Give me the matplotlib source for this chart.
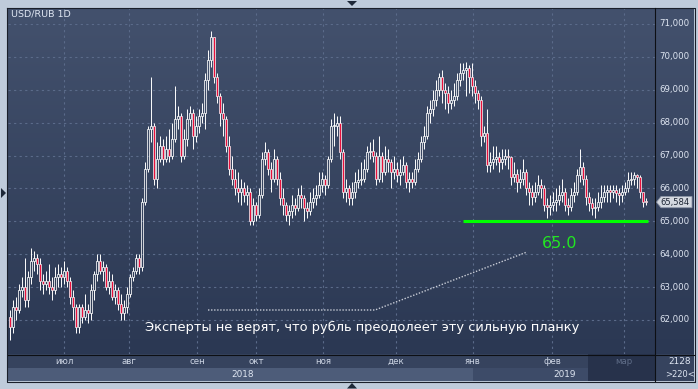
import matplotlib
matplotlib.use("Agg")
import matplotlib.pyplot as plt
import numpy as np
from matplotlib.patches import Rectangle, Polygon
from matplotlib.lines import Line2D

# ---------------- data ----------------
title = "USD/RUB 1D"
opens = [62.1, 61.8, 62.4, 62.3, 62.9, 63.0, 62.6, 63.3, 63.8, 63.9,
         63.7, 63.2, 63.1, 63.2, 63.0, 62.9, 63.3, 63.4, 63.3, 63.5,
         63.2, 62.7, 62.4, 61.8, 62.4, 62.1, 62.3, 62.2, 62.9, 63.4,
         63.8, 63.5, 63.6, 63.0, 63.2, 62.7, 62.9, 62.5, 62.2, 62.4,
         62.8, 63.3, 63.5, 63.9, 63.6, 65.6, 66.6, 67.8, 67.9, 66.3,
         66.9, 67.3, 66.9, 67.2, 67.0, 67.5, 68.1, 68.2, 67.0, 67.5,
         68.1, 68.3, 67.6, 67.9, 68.2, 68.3, 69.3, 69.9, 70.6, 69.4,
         68.8, 68.3, 68.1, 67.3, 66.6, 66.3, 66.0, 65.9, 66.0, 65.8,
         65.9, 65.0, 65.5, 65.2, 65.8, 66.9, 67.1, 66.6, 66.3, 66.9,
         66.3, 65.7, 65.5, 65.2, 65.3, 65.5, 65.4, 65.8, 65.7, 65.4,
         65.3, 65.6, 65.7, 65.8, 66.1, 66.3, 66.1, 66.9, 67.9, 67.9,
         68.0, 67.1, 65.9, 66.0, 65.7, 65.9, 66.2, 66.25, 66.3, 66.6,
         67.1, 67.15, 67.0, 66.3, 67.0, 66.5, 66.9, 66.8, 66.5, 66.6,
         66.4, 66.5, 66.7, 66.2, 66.3, 66.2, 66.6, 66.9, 67.4, 67.6,
         68.3, 68.4, 68.7, 69.0, 69.4, 69.0, 68.9, 68.6, 68.7, 68.8,
         69.3, 69.5, 69.6, 69.65, 69.4, 69.1, 68.9, 68.7, 67.6, 67.7,
         66.7, 66.8, 66.9, 66.95, 66.8, 66.9, 67.0, 66.95, 66.35, 66.45,
         66.2, 66.3, 66.5, 66.0, 65.9, 65.75, 65.9, 66.1, 66.0, 65.5,
         65.45, 65.5, 65.6, 65.65, 65.8, 65.9, 65.5, 65.45, 65.8, 65.9,
         66.4, 66.65, 66.3, 65.75, 65.55, 65.4, 65.45, 65.6, 65.75, 65.9,
         65.95, 65.9, 65.95, 65.85, 65.8, 65.9, 66.0, 66.25, 66.3, 66.4,
         66.35, 65.9, 65.6]
highs = [62.3, 62.6, 62.7, 63.1, 63.3, 63.9, 63.5, 64.2, 64.1, 64.0,
         63.9, 63.4, 63.5, 63.7, 63.3, 63.6, 63.7, 63.6, 63.8, 63.6,
         63.3, 62.9, 62.5, 62.5, 62.5, 62.8, 62.5, 63.1, 63.5, 64.0,
         64.0, 63.8, 63.7, 63.5, 63.4, 63.1, 63.0, 62.8, 62.6, 63.0,
         63.4, 63.6, 64.0, 64.0, 65.7, 66.8, 67.9, 69.4, 68.0, 67.4,
         67.6, 67.5, 67.6, 67.8, 68.0, 69.1, 68.5, 68.3, 67.8, 68.4,
         68.5, 68.4, 68.2, 68.4, 68.6, 69.5, 70.2, 70.8, 70.6, 69.5,
         68.9, 68.6, 68.2, 67.6, 67.0, 66.6, 66.5, 66.3, 66.2, 66.1,
         66.0, 65.7, 65.6, 66.0, 67.1, 67.4, 67.2, 66.8, 67.2, 67.0,
         66.5, 66.0, 65.6, 65.5, 65.8, 65.7, 66.0, 66.1, 65.8, 65.6,
         65.9, 66.0, 66.1, 66.5, 66.5, 66.4, 67.0, 68.1, 68.3, 68.2,
         68.2, 67.2, 66.3, 66.1, 66.2, 66.5, 66.6, 66.8, 66.9, 67.3,
         67.4, 67.5, 67.1, 67.6, 67.1, 67.3, 67.2, 66.9, 67.0, 66.8,
         66.9, 67.0, 66.8, 66.5, 66.5, 66.9, 67.1, 67.6, 67.9, 68.5,
         68.7, 69.0, 69.3, 69.5, 69.6, 69.2, 69.1, 69.0, 69.2, 69.5,
         69.8, 69.8, 69.85, 69.75, 69.8, 69.3, 69.0, 68.8, 67.9, 68.4,
         67.1, 67.3, 67.3, 67.1, 67.2, 67.2, 67.2, 67.0, 66.8, 66.6,
         66.6, 66.9, 66.6, 66.2, 66.1, 66.2, 66.4, 66.3, 66.1, 65.7,
         65.8, 65.9, 66.0, 66.1, 66.3, 66.0, 65.7, 66.0, 66.2, 66.6,
         67.2, 66.8, 66.4, 65.9, 65.7, 65.7, 65.9, 66.1, 66.1, 66.1,
         66.1, 66.1, 66.1, 66.0, 66.1, 66.2, 66.5, 66.5, 66.5, 66.45,
         66.4, 65.9, 65.7]
lows = [61.4, 61.6, 62.0, 62.2, 62.7, 62.4, 62.4, 63.1, 63.5, 63.4,
        62.9, 62.8, 62.9, 62.8, 62.6, 62.8, 63.0, 63.0, 63.1, 63.0,
        62.5, 62.0, 61.6, 61.6, 61.9, 62.0, 61.9, 62.0, 62.6, 63.2,
        63.4, 63.2, 62.9, 62.8, 62.6, 62.5, 62.3, 62.0, 62.0, 62.2,
        62.7, 63.2, 63.4, 63.4, 63.5, 65.5, 66.5, 67.4, 66.1, 66.0,
        66.8, 66.7, 66.8, 66.8, 66.9, 67.4, 67.8, 66.8, 66.9, 67.3,
        67.9, 67.2, 67.4, 67.7, 68.0, 67.8, 69.0, 69.7, 69.2, 68.6,
        67.9, 67.6, 67.1, 66.4, 66.1, 65.8, 65.6, 65.5, 65.6, 65.5,
        64.9, 64.9, 65.0, 65.1, 65.7, 66.7, 66.4, 65.9, 66.2, 66.1,
        65.5, 65.2, 65.0, 64.9, 65.1, 65.2, 65.3, 65.4, 65.0, 65.1,
        65.2, 65.4, 65.5, 65.7, 65.9, 65.8, 66.0, 66.8, 67.3, 67.6,
        66.9, 65.7, 65.6, 65.5, 65.5, 65.7, 66.0, 66.1, 66.2, 66.5,
        66.9, 66.8, 66.1, 66.2, 66.2, 66.4, 66.5, 66.0, 66.3, 66.2,
        66.1, 66.4, 66.0, 65.9, 66.0, 66.1, 66.5, 66.8, 67.2, 67.5,
        68.0, 68.2, 68.5, 68.8, 68.6, 68.4, 68.3, 68.4, 68.5, 68.7,
        69.1, 69.3, 68.8, 68.9, 68.8, 68.6, 68.4, 67.3, 67.4, 66.5,
        66.5, 66.6, 66.7, 66.5, 66.6, 66.7, 66.6, 66.1, 66.2, 65.9,
        66.0, 66.1, 65.8, 65.5, 65.5, 65.6, 65.8, 65.7, 65.3, 65.1,
        65.2, 65.3, 65.3, 65.5, 65.6, 65.3, 65.2, 65.3, 65.6, 65.8,
        66.2, 66.1, 65.5, 65.3, 65.2, 65.1, 65.3, 65.4, 65.6, 65.6,
        65.6, 65.7, 65.6, 65.5, 65.6, 65.8, 65.9, 66.1, 66.1, 66.0,
        65.7, 65.45, 65.5]
closes = [61.8, 62.4, 62.3, 62.9, 63.0, 62.6, 63.3, 63.8, 63.9, 63.7,
          63.2, 63.1, 63.2, 63.0, 62.9, 63.3, 63.4, 63.3, 63.5, 63.2,
          62.7, 62.4, 61.8, 62.4, 62.1, 62.3, 62.2, 62.9, 63.4, 63.8,
          63.5, 63.6, 63.0, 63.2, 62.7, 62.9, 62.5, 62.2, 62.4, 62.8,
          63.3, 63.5, 63.9, 63.6, 65.6, 66.6, 67.8, 67.9, 66.3, 66.9,
          67.3, 66.9, 67.2, 67.0, 67.5, 68.1, 68.2, 67.0, 67.5, 68.1,
          68.3, 67.6, 67.9, 68.2, 68.3, 69.3, 69.9, 70.6, 69.4, 68.8,
          68.3, 68.1, 67.3, 66.6, 66.3, 66.0, 65.9, 66.0, 65.8, 65.9,
          65.0, 65.5, 65.2, 65.8, 66.9, 67.1, 66.6, 66.3, 66.9, 66.3,
          65.7, 65.5, 65.2, 65.3, 65.5, 65.4, 65.8, 65.7, 65.4, 65.3,
          65.6, 65.7, 65.8, 66.1, 66.3, 66.1, 66.9, 67.9, 67.9, 68.0,
          67.1, 65.9, 66.0, 65.7, 65.9, 66.2, 66.25, 66.3, 66.6, 67.1,
          67.15, 67.0, 66.3, 67.0, 66.5, 66.9, 66.8, 66.5, 66.6, 66.4,
          66.5, 66.7, 66.2, 66.3, 66.2, 66.6, 66.9, 67.4, 67.6, 68.3,
          68.4, 68.7, 69.0, 69.4, 69.0, 68.9, 68.6, 68.7, 68.8, 69.3,
          69.5, 69.6, 69.65, 69.4, 69.1, 68.9, 68.7, 67.6, 67.7, 66.7,
          66.8, 66.9, 66.95, 66.8, 66.9, 67.0, 66.95, 66.35, 66.45, 66.2,
          66.3, 66.5, 66.0, 65.9, 65.75, 65.9, 66.1, 66.0, 65.5, 65.45,
          65.5, 65.6, 65.65, 65.8, 65.9, 65.5, 65.45, 65.8, 65.9, 66.4,
          66.65, 66.3, 65.75, 65.55, 65.4, 65.45, 65.6, 65.75, 65.9, 65.95,
          65.9, 65.95, 65.85, 65.8, 65.9, 66.0, 66.25, 66.3, 66.4, 66.35,
          65.9, 65.6, 65.584]
y_ticks = [62, 63, 64, 65, 66, 67, 68, 69, 70, 71]
month_labels = ["июл", "авг", "сен", "окт", "ноя", "дек", "янв", "фев", "мар"]
month_pos = [18, 39.7, 62.3, 82, 104.3, 128.7, 154.3, 180.7, 204.7]
year_labels = ["2018", "2019"]
year_pos = [77.7, 185]
level = 65.0
level_text = "65.0"
last_price = 65.584
note = "Эксперты не верят, что рубль преодолеет эту сильную планку"
corner_top, corner_bottom = "2128", ">220<"

# ---------------- layout ----------------
W, H = 698, 389
fig = plt.figure(figsize=(W / 100, H / 100), dpi=100)
fig.patch.set_facecolor("#bfcbdb")

def add_ax(x0, y0, x1, y1):
    return fig.add_axes([x0 / W, 1 - y1 / H, (x1 - x0) / W, (y1 - y0) / H])

def fp(x, y):
    return (x / W, 1 - y / H)

X0, X1 = -2 / 3, 215
Y0, Y1 = 60.966, 71.486

# gradient background behind plot + right scale
bg = add_ax(8, 8, 694, 354)
g = np.linspace(0, 1, 256)[:, None, None]
top = np.array([0x43, 0x51, 0x6d]) / 255
bot = np.array([0x2b, 0x38, 0x53]) / 255
img = top * (1 - g) + bot * g
bg.imshow(np.repeat(img, 2, axis=1), aspect="auto", extent=[0, 1, 0, 1])
bg.axis("off")

ax = add_ax(8, 8, 655, 354)
ax.set_facecolor("none")
ax.set_xlim(X0, X1)
ax.set_ylim(Y0, Y1)
for s in ax.spines.values():
    s.set_visible(False)
ax.set_xticks([]); ax.set_yticks([])

gcol = "#5b6b8a"
for yv in y_ticks:
    ax.axhline(yv, color=gcol, lw=0.8, ls=(0, (2, 3)), zorder=1)
for xv in month_pos:
    ax.axvline(xv, color=gcol, lw=0.8, ls=(0, (2, 3)), zorder=1)

o = np.array(opens); c = np.array(closes)
hi = np.array(highs); lo = np.array(lows)
n = len(c)
x = np.arange(n)
blo = np.minimum(o, c); bhi = np.maximum(o, c)
ax.vlines(x, lo, blo, color="white", lw=0.7, zorder=3)
ax.vlines(x, bhi, hi, color="white", lw=0.7, zorder=3)
hgt = np.maximum(bhi - blo, 0.03)
up = c >= o
ax.bar(x[up], hgt[up], bottom=blo[up], width=0.68, facecolor="none",
       edgecolor="white", linewidth=0.55, zorder=4)
ax.bar(x[~up], hgt[~up], bottom=blo[~up], width=0.68, facecolor="#e8103c",
       edgecolor="white", linewidth=0.5, zorder=4)

def px2x(px):
    return X0 + (px - 8) / 647 * (X1 - X0)

def px2y(py):
    return Y1 - (py - 8) / 346 * (Y1 - Y0)

# support level
ax.hlines(level, px2x(463), px2x(648), color="#00ff00", lw=2.2, zorder=5)
ax.text(px2x(560), px2y(244), level_text, color="#22e622", fontsize=11.5,
        ha="center", va="center", zorder=6)
# dotted pointer
ax.plot([px2x(208), px2x(375), px2x(527)], [px2y(310), px2y(310), px2y(252)],
        color="#c8ccd6", lw=1.0, ls=(0, (1, 1.2)), zorder=5)
ax.text(px2x(362), px2y(327), note, color="white", fontsize=9.35,
        ha="center", va="center", zorder=6)
ax.text(px2x(11), px2y(14), title, color="#dfe6f2", fontsize=6.8,
        ha="left", va="center", zorder=6)

# right price scale
rp = add_ax(655, 8, 694, 354)
rp.set_facecolor("none")
rp.set_xlim(655, 694); rp.set_ylim(Y0, Y1)
rp.axis("off")
for yv in y_ticks:
    rp.text(659, yv, f"{yv:.3f}".replace(".", ","), color="#dfe6f2",
            fontsize=6.2, ha="left", va="center")
hh = 0.17
rp.add_patch(Polygon([(656.5, last_price), (661, last_price + hh), (692, last_price + hh),
                      (692, last_price - hh), (661, last_price - hh)], closed=True,
                     facecolor="#d4d8e0", edgecolor="#8d95a6", lw=0.6, zorder=5))
rp.text(660.5, last_price, f"{last_price:.3f}".replace(".", ","), color="#1c2433",
        fontsize=6.0, ha="left", va="center", zorder=6)

# bottom time axis
bp = add_ax(8, 354, 655, 381)
bp.set_xlim(X0, X1); bp.set_ylim(27, 0)
bp.axis("off")
bp.add_patch(Rectangle((X0, 0), X1 - X0, 14, facecolor="#36435e", edgecolor="none"))
bp.add_patch(Rectangle((X0, 14), month_pos[6] - X0, 13, facecolor="#4d5c79", edgecolor="none"))
bp.add_patch(Rectangle((month_pos[6], 14), px2x(588) - month_pos[6], 13,
                       facecolor="#3d4b68", edgecolor="none"))
bp.add_patch(Rectangle((px2x(588), 0), X1 - px2x(588), 27, facecolor="#27324b",
                       edgecolor="none"))
for lab, pos in zip(month_labels, month_pos):
    col = "#5f6d88" if lab == "мар" else "#cdd5e4"
    bp.text(pos, 7, lab, color=col, fontsize=6.2, ha="center", va="center")
for lab, pos in zip(year_labels, year_pos):
    bp.text(pos, 20.5, lab, color="#dfe6f2", fontsize=6.4, ha="center", va="center")

cb = add_ax(655, 354, 694, 381)
cb.set_xlim(0, 39); cb.set_ylim(27, 0)
cb.set_facecolor("#36435e")
for s in cb.spines.values():
    s.set_visible(False)
cb.set_xticks([]); cb.set_yticks([])
cb.text(25, 7, corner_top, color="#dfe6f2", fontsize=6.4, ha="center", va="center")
cb.text(25, 20.5, corner_bottom, color="#dfe6f2", fontsize=6.0, ha="center", va="center")

# frame lines
def fline(xs, ys, color="#0d0f14", lw=0.8):
    fig.add_artist(Line2D([v / W for v in xs], [1 - v / H for v in ys],
                          transform=fig.transFigure, color=color, lw=lw))

fline([7.5, 694.5, 694.5, 7.5, 7.5], [7.5, 7.5, 381.5, 381.5, 7.5], color="#1a1f2a")
fline([655, 655], [8, 381])
fline([8, 694], [354.5, 354.5])

# little navigation triangles
for pts in ([(347, 1), (357, 1), (352, 6)], [(347, 388.5), (357, 388.5), (352, 383)],
            [(1, 188), (1, 198), (6, 193)]):
    fig.add_artist(Polygon([fp(*p) for p in pts], closed=True, transform=fig.transFigure,
                           facecolor="#1e2838", edgecolor="none"))

fig.savefig("out.png", dpi=100, facecolor=fig.get_facecolor())
